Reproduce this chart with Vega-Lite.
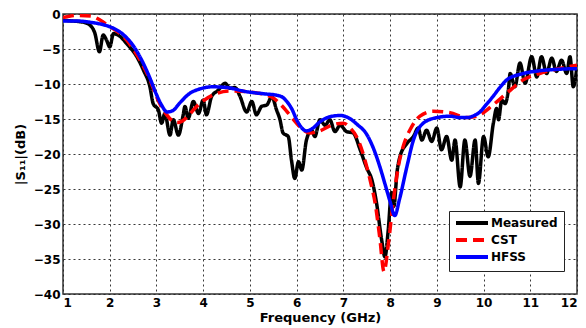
{
  "$schema": "https://vega.github.io/schema/vega-lite/v6.json",
  "width": 514,
  "height": 280,
  "autosize": {"type": "none"},
  "padding": {"left": 63, "top": 14, "right": 9, "bottom": 34},
  "background": "white",
  "config": {
    "view": {"stroke": "#333333", "strokeWidth": 1.5},
    "font": "DejaVu Sans",
    "axis": {
      "labelFont": "DejaVu Sans", "labelFontWeight": "bold", "labelFontSize": 12, "labelColor": "black",
      "titleFont": "DejaVu Sans", "titleFontWeight": "bold", "titleFontSize": 13, "titleColor": "black",
      "gridColor": "#222222", "gridDash": [2, 3], "gridWidth": 1, "gridOpacity": 0.9,
      "domain": false, "ticks": false
    },
    "legend": {
      "labelFont": "DejaVu Sans", "labelFontWeight": "bold", "labelFontSize": 12, "labelColor": "black"
    }
  },
  "data": {"values": [
    {"f":1.0,"s":-0.9,"series":"Measured"},{"f":1.2,"s":-1.0,"series":"Measured"},{"f":1.36,"s":-1.1,"series":"Measured"},{"f":1.5,"s":-1.3,"series":"Measured"},{"f":1.58,"s":-1.6,"series":"Measured"},{"f":1.68,"s":-2.7,"series":"Measured"},{"f":1.78,"s":-5.4,"series":"Measured"},{"f":1.86,"s":-3.0,"series":"Measured"},{"f":1.93,"s":-3.7,"series":"Measured"},{"f":2.0,"s":-4.7,"series":"Measured"},{"f":2.08,"s":-2.8,"series":"Measured"},{"f":2.22,"s":-3.2,"series":"Measured"},{"f":2.36,"s":-4.2,"series":"Measured"},{"f":2.58,"s":-6.1,"series":"Measured"},{"f":2.72,"s":-8.0,"series":"Measured"},{"f":2.86,"s":-10.4,"series":"Measured"},{"f":2.93,"s":-12.8,"series":"Measured"},{"f":3.04,"s":-13.7,"series":"Measured"},{"f":3.11,"s":-15.6,"series":"Measured"},{"f":3.18,"s":-14.2,"series":"Measured"},{"f":3.29,"s":-17.3,"series":"Measured"},{"f":3.36,"s":-15.1,"series":"Measured"},{"f":3.47,"s":-17.3,"series":"Measured"},{"f":3.57,"s":-14.5,"series":"Measured"},{"f":3.61,"s":-13.2,"series":"Measured"},{"f":3.68,"s":-14.9,"series":"Measured"},{"f":3.79,"s":-12.5,"series":"Measured"},{"f":3.9,"s":-14.2,"series":"Measured"},{"f":4.0,"s":-12.3,"series":"Measured"},{"f":4.07,"s":-14.4,"series":"Measured"},{"f":4.18,"s":-11.8,"series":"Measured"},{"f":4.32,"s":-10.9,"series":"Measured"},{"f":4.47,"s":-9.9,"series":"Measured"},{"f":4.57,"s":-10.6,"series":"Measured"},{"f":4.68,"s":-10.5,"series":"Measured"},{"f":4.79,"s":-11.8,"series":"Measured"},{"f":4.93,"s":-14.0,"series":"Measured"},{"f":5.04,"s":-12.5,"series":"Measured"},{"f":5.14,"s":-14.4,"series":"Measured"},{"f":5.25,"s":-13.2,"series":"Measured"},{"f":5.36,"s":-13.0,"series":"Measured"},{"f":5.47,"s":-11.8,"series":"Measured"},{"f":5.57,"s":-13.7,"series":"Measured"},{"f":5.64,"s":-15.0,"series":"Measured"},{"f":5.71,"s":-17.0,"series":"Measured"},{"f":5.82,"s":-17.5,"series":"Measured"},{"f":5.89,"s":-20.9,"series":"Measured"},{"f":5.96,"s":-23.5,"series":"Measured"},{"f":6.04,"s":-21.1,"series":"Measured"},{"f":6.11,"s":-22.3,"series":"Measured"},{"f":6.21,"s":-18.0,"series":"Measured"},{"f":6.32,"s":-16.6,"series":"Measured"},{"f":6.39,"s":-17.5,"series":"Measured"},{"f":6.5,"s":-15.1,"series":"Measured"},{"f":6.61,"s":-15.9,"series":"Measured"},{"f":6.71,"s":-15.1,"series":"Measured"},{"f":6.82,"s":-16.8,"series":"Measured"},{"f":6.93,"s":-15.9,"series":"Measured"},{"f":7.07,"s":-16.8,"series":"Measured"},{"f":7.21,"s":-17.0,"series":"Measured"},{"f":7.36,"s":-19.4,"series":"Measured"},{"f":7.5,"s":-22.0,"series":"Measured"},{"f":7.61,"s":-23.7,"series":"Measured"},{"f":7.71,"s":-27.0,"series":"Measured"},{"f":7.82,"s":-32.3,"series":"Measured"},{"f":7.89,"s":-34.7,"series":"Measured"},{"f":7.96,"s":-30.9,"series":"Measured"},{"f":8.03,"s":-25.5,"series":"Measured"},{"f":8.08,"s":-27.5,"series":"Measured"},{"f":8.15,"s":-22.5,"series":"Measured"},{"f":8.21,"s":-20.4,"series":"Measured"},{"f":8.36,"s":-18.5,"series":"Measured"},{"f":8.5,"s":-17.5,"series":"Measured"},{"f":8.6,"s":-16.3,"series":"Measured"},{"f":8.68,"s":-18.0,"series":"Measured"},{"f":8.78,"s":-16.6,"series":"Measured"},{"f":8.89,"s":-18.2,"series":"Measured"},{"f":9.0,"s":-16.3,"series":"Measured"},{"f":9.1,"s":-19.4,"series":"Measured"},{"f":9.21,"s":-17.5,"series":"Measured"},{"f":9.32,"s":-20.9,"series":"Measured"},{"f":9.39,"s":-18.0,"series":"Measured"},{"f":9.5,"s":-24.7,"series":"Measured"},{"f":9.6,"s":-18.0,"series":"Measured"},{"f":9.71,"s":-23.2,"series":"Measured"},{"f":9.82,"s":-18.0,"series":"Measured"},{"f":9.89,"s":-24.2,"series":"Measured"},{"f":10.0,"s":-17.5,"series":"Measured"},{"f":10.1,"s":-20.4,"series":"Measured"},{"f":10.21,"s":-15.6,"series":"Measured"},{"f":10.28,"s":-13.5,"series":"Measured"},{"f":10.32,"s":-15.1,"series":"Measured"},{"f":10.39,"s":-12.3,"series":"Measured"},{"f":10.46,"s":-12.8,"series":"Measured"},{"f":10.53,"s":-10.9,"series":"Measured"},{"f":10.57,"s":-8.5,"series":"Measured"},{"f":10.67,"s":-10.4,"series":"Measured"},{"f":10.78,"s":-7.0,"series":"Measured"},{"f":10.89,"s":-9.9,"series":"Measured"},{"f":11.03,"s":-6.1,"series":"Measured"},{"f":11.14,"s":-9.0,"series":"Measured"},{"f":11.24,"s":-6.1,"series":"Measured"},{"f":11.35,"s":-8.5,"series":"Measured"},{"f":11.46,"s":-6.3,"series":"Measured"},{"f":11.56,"s":-8.2,"series":"Measured"},{"f":11.67,"s":-6.6,"series":"Measured"},{"f":11.78,"s":-8.5,"series":"Measured"},{"f":11.85,"s":-6.1,"series":"Measured"},{"f":11.92,"s":-10.4,"series":"Measured"},{"f":12.0,"s":-7.5,"series":"Measured"},

    {"f":1.0,"s":-0.5,"series":"CST"},{"f":1.3,"s":-0.2,"series":"CST"},{"f":1.6,"s":-0.3,"series":"CST"},{"f":1.8,"s":-0.9,"series":"CST"},{"f":2.0,"s":-1.8,"series":"CST"},{"f":2.2,"s":-2.7,"series":"CST"},{"f":2.36,"s":-3.7,"series":"CST"},{"f":2.5,"s":-5.0,"series":"CST"},{"f":2.65,"s":-6.6,"series":"CST"},{"f":2.86,"s":-9.4,"series":"CST"},{"f":3.0,"s":-11.8,"series":"CST"},{"f":3.1,"s":-13.2,"series":"CST"},{"f":3.22,"s":-14.4,"series":"CST"},{"f":3.35,"s":-15.3,"series":"CST"},{"f":3.45,"s":-15.5,"series":"CST"},{"f":3.55,"s":-15.3,"series":"CST"},{"f":3.7,"s":-14.4,"series":"CST"},{"f":3.86,"s":-13.2,"series":"CST"},{"f":4.0,"s":-12.4,"series":"CST"},{"f":4.2,"s":-11.6,"series":"CST"},{"f":4.57,"s":-11.0,"series":"CST"},{"f":4.93,"s":-11.1,"series":"CST"},{"f":5.36,"s":-11.6,"series":"CST"},{"f":5.5,"s":-12.0,"series":"CST"},{"f":5.64,"s":-12.8,"series":"CST"},{"f":5.8,"s":-14.0,"series":"CST"},{"f":6.0,"s":-15.6,"series":"CST"},{"f":6.15,"s":-16.6,"series":"CST"},{"f":6.29,"s":-17.0,"series":"CST"},{"f":6.5,"s":-16.7,"series":"CST"},{"f":6.78,"s":-15.8,"series":"CST"},{"f":7.0,"s":-15.6,"series":"CST"},{"f":7.15,"s":-16.3,"series":"CST"},{"f":7.28,"s":-17.5,"series":"CST"},{"f":7.4,"s":-19.5,"series":"CST"},{"f":7.5,"s":-21.8,"series":"CST"},{"f":7.6,"s":-24.5,"series":"CST"},{"f":7.68,"s":-27.0,"series":"CST"},{"f":7.78,"s":-32.0,"series":"CST"},{"f":7.87,"s":-36.8,"series":"CST"},{"f":7.96,"s":-33.0,"series":"CST"},{"f":8.07,"s":-26.6,"series":"CST"},{"f":8.2,"s":-21.0,"series":"CST"},{"f":8.3,"s":-18.5,"series":"CST"},{"f":8.43,"s":-16.5,"series":"CST"},{"f":8.64,"s":-14.6,"series":"CST"},{"f":8.92,"s":-13.9,"series":"CST"},{"f":9.28,"s":-14.1,"series":"CST"},{"f":9.64,"s":-14.8,"series":"CST"},{"f":9.8,"s":-14.7,"series":"CST"},{"f":9.92,"s":-14.4,"series":"CST"},{"f":10.2,"s":-13.0,"series":"CST"},{"f":10.5,"s":-11.3,"series":"CST"},{"f":10.85,"s":-9.4,"series":"CST"},{"f":11.2,"s":-8.5,"series":"CST"},{"f":11.56,"s":-7.9,"series":"CST"},{"f":12.0,"s":-7.3,"series":"CST"},

    {"f":1.0,"s":-1.0,"series":"HFSS"},{"f":1.3,"s":-1.0,"series":"HFSS"},{"f":1.6,"s":-1.2,"series":"HFSS"},{"f":1.9,"s":-1.6,"series":"HFSS"},{"f":2.1,"s":-2.1,"series":"HFSS"},{"f":2.3,"s":-3.0,"series":"HFSS"},{"f":2.5,"s":-4.5,"series":"HFSS"},{"f":2.7,"s":-6.8,"series":"HFSS"},{"f":2.85,"s":-9.0,"series":"HFSS"},{"f":3.0,"s":-11.5,"series":"HFSS"},{"f":3.1,"s":-12.9,"series":"HFSS"},{"f":3.23,"s":-14.0,"series":"HFSS"},{"f":3.35,"s":-13.8,"series":"HFSS"},{"f":3.5,"s":-12.7,"series":"HFSS"},{"f":3.7,"s":-11.4,"series":"HFSS"},{"f":3.93,"s":-10.7,"series":"HFSS"},{"f":4.21,"s":-10.4,"series":"HFSS"},{"f":4.5,"s":-10.5,"series":"HFSS"},{"f":4.93,"s":-11.1,"series":"HFSS"},{"f":5.3,"s":-11.4,"series":"HFSS"},{"f":5.57,"s":-11.6,"series":"HFSS"},{"f":5.7,"s":-11.9,"series":"HFSS"},{"f":5.79,"s":-12.5,"series":"HFSS"},{"f":5.9,"s":-13.6,"series":"HFSS"},{"f":6.0,"s":-15.1,"series":"HFSS"},{"f":6.1,"s":-16.2,"series":"HFSS"},{"f":6.21,"s":-16.7,"series":"HFSS"},{"f":6.35,"s":-16.3,"series":"HFSS"},{"f":6.5,"s":-15.4,"series":"HFSS"},{"f":6.7,"s":-14.7,"series":"HFSS"},{"f":6.93,"s":-14.5,"series":"HFSS"},{"f":7.1,"s":-14.8,"series":"HFSS"},{"f":7.3,"s":-15.8,"series":"HFSS"},{"f":7.5,"s":-17.2,"series":"HFSS"},{"f":7.65,"s":-19.3,"series":"HFSS"},{"f":7.78,"s":-21.8,"series":"HFSS"},{"f":7.9,"s":-24.5,"series":"HFSS"},{"f":8.0,"s":-26.8,"series":"HFSS"},{"f":8.1,"s":-28.8,"series":"HFSS"},{"f":8.2,"s":-26.5,"series":"HFSS"},{"f":8.36,"s":-21.8,"series":"HFSS"},{"f":8.5,"s":-18.0,"series":"HFSS"},{"f":8.71,"s":-15.6,"series":"HFSS"},{"f":9.0,"s":-14.8,"series":"HFSS"},{"f":9.28,"s":-14.6,"series":"HFSS"},{"f":9.5,"s":-14.8,"series":"HFSS"},{"f":9.64,"s":-14.8,"series":"HFSS"},{"f":9.8,"s":-14.5,"series":"HFSS"},{"f":9.92,"s":-14.0,"series":"HFSS"},{"f":10.05,"s":-13.0,"series":"HFSS"},{"f":10.2,"s":-11.8,"series":"HFSS"},{"f":10.35,"s":-10.5,"series":"HFSS"},{"f":10.5,"s":-9.4,"series":"HFSS"},{"f":10.85,"s":-8.5,"series":"HFSS"},{"f":11.2,"s":-8.1,"series":"HFSS"},{"f":11.6,"s":-7.9,"series":"HFSS"},{"f":12.0,"s":-7.8,"series":"HFSS"}
  ]},
  "mark": {"type": "line", "strokeWidth": 3.5, "interpolate": "monotone", "clip": true},
  "encoding": {
    "x": {"field": "f", "type": "quantitative", "title": "Frequency (GHz)",
      "scale": {"domain": [1, 12], "nice": false},
      "axis": {"values": [1,2,3,4,5,6,7,8,9,10,11,12], "labelPadding": 3, "titlePadding": 3}},
    "y": {"field": "s", "type": "quantitative", "title": "|S₁₁|(dB)",
      "scale": {"domain": [-40, 0], "nice": false},
      "axis": {"values": [-40,-35,-30,-25,-20,-15,-10,-5,0], "labelPadding": 3, "titlePadding": 6}},
    "color": {"field": "series", "type": "nominal",
      "scale": {"domain": ["Measured", "CST", "HFSS"], "range": ["#000000", "#ff0000", "#0000ff"]},
      "legend": {"title": null, "orient": "none", "legendX": 386, "legendY": 197,
        "symbolType": "M-4,0H4", "symbolSize": 64, "symbolStrokeWidth": 4, "symbolOffset": 11,
        "strokeColor": "#222222", "fillColor": "white", "padding": 6, "rowPadding": 1, "labelOffset": 13}},
    "strokeDash": {"field": "series", "type": "nominal",
      "scale": {"domain": ["Measured", "CST", "HFSS"], "range": [[1, 0], [11, 6], [1, 0]]},
      "legend": {"title": null, "orient": "none", "legendX": 386, "legendY": 197,
        "symbolType": "M-4,0H4", "symbolSize": 64, "symbolStrokeWidth": 4, "symbolOffset": 11,
        "strokeColor": "#222222", "fillColor": "white", "padding": 6, "rowPadding": 1, "labelOffset": 13}},
    "order": {"field": "f", "type": "quantitative"}
  }
}
